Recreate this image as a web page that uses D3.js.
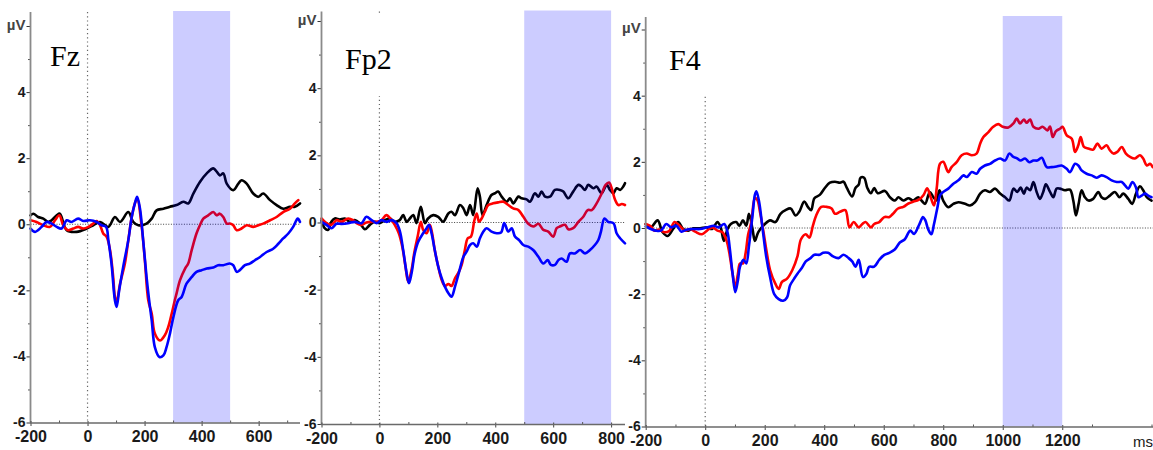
<!DOCTYPE html>
<html><head><meta charset="utf-8">
<script src="https://cdn.jsdelivr.net/npm/d3@7"></script>
<style>body{margin:0;background:#fff;} svg{display:block;}</style>
</head><body>
<svg id="c" width="1153" height="450"></svg>
<script>
// ---------- DATA (time in ms, amplitude in µV) ----------
const fzBlack = [[-200,0.27],[-190,0.32],[-173,0.22],[-155,0.17],[-138,0.07],[-126,0.12],[-108,0.27],[-97,0.32],[-73,-0.18],[-38,-0.23],[-3,-0.13],[20,-0.03],[44,0.07],[73,-0.08],[96,0.22],[114,0.07],[143,0.37],[160,0.07],[178,-0.03],[207,0.02],[225,0.17],[242,0.42],[266,0.47],[289,0.53],[312,0.58],[336,0.68],[353,0.63],[371,0.93],[394,1.28],[418,1.54],[441,1.69],[453,1.59],[464,1.48],[476,1.54],[488,1.23],[511,1.03],[529,1.23],[540,1.33],[558,1.23],[581,0.93],[599,0.83],[616,0.93],[640,0.73],[663,0.58],[686,0.47],[710,0.53],[727,0.53],[745,0.63]];
const fzRed = [[-200,0.12],[-179,0.07],[-155,-0.03],[-132,-0.08],[-114,0.12],[-99,0.27],[-85,-0.03],[-68,-0.18],[-50,-0.13],[-33,-0.08],[-15,-0.13],[3,-0.08],[20,0.02],[32,0.1],[44,-0.03],[55,-0.28],[67,-0.38],[79,-0.79],[90,-1.6],[96,-2.2],[102,-2.35],[114,-1.8],[131,-1.19],[143,-0.48],[155,0.22],[166,0.63],[174,0.78],[190,-0.08],[201,-1.09],[213,-2.3],[225,-2.7],[236,-3.31],[254,-3.52],[271,-3.36],[283,-3.11],[295,-2.71],[306,-2.3],[312,-2.1],[324,-1.7],[342,-1.34],[353,-1.19],[365,-0.79],[382,-0.28],[394,-0.03],[406,0.17],[423,0.27],[441,0.37],[453,0.27],[464,0.32],[476,0.22],[488,0.02],[499,0.02],[511,-0.03],[523,-0.18],[540,-0.13],[558,-0.03],[581,-0.08],[599,-0.03],[616,0.02],[640,0.12],[663,0.22],[686,0.37],[710,0.47],[727,0.63],[739,0.73]];
const fzBlue = [[-200,-0.13],[-184,-0.23],[-161,-0.08],[-144,0.07],[-126,0.02],[-108,-0.08],[-91,-0.13],[-73,0.12],[-56,0.07],[-33,0.17],[-15,0.1],[8,0.12],[32,0.07],[49,-0.03],[65,-0.08],[73,-0.48],[84,-1.19],[96,-2.3],[102,-2.5],[111,-2.0],[125,-1.29],[143,-0.48],[155,0.22],[166,0.63],[174,0.83],[184,0.47],[195,-0.48],[207,-1.6],[216,-2.3],[225,-2.91],[236,-3.72],[252,-4.02],[266,-3.97],[277,-3.72],[289,-3.31],[301,-2.81],[318,-2.3],[330,-2.2],[347,-1.8],[365,-1.6],[382,-1.44],[400,-1.39],[418,-1.34],[441,-1.31],[458,-1.24],[476,-1.24],[499,-1.19],[511,-1.24],[523,-1.44],[534,-1.39],[552,-1.24],[569,-1.19],[587,-1.09],[605,-0.99],[628,-0.84],[651,-0.74],[669,-0.59],[686,-0.43],[704,-0.28],[721,-0.08],[737,0.17],[745,0.07]];

const fp2Black = [[-200,0.07],[-189,-0.17],[-177,-0.22],[-166,0.02],[-154,0.12],[-137,0.09],[-120,0.12],[-102,0.02],[-85,0.07],[-68,-0.02],[-50,-0.2],[-33,-0.07],[-16,0.02],[1,-0.02],[19,0.07],[36,0.12],[53,0.02],[70,0.07],[82,0.22],[94,0.02],[105,0.12],[117,0.22],[128,-0.02],[143,0.47],[157,-0.02],[168,0.12],[186,0.22],[203,0.17],[220,0.02],[238,0.27],[249,0.32],[261,0.22],[278,0.52],[290,0.42],[301,0.22],[313,0.52],[324,0.22],[339,1.02],[347,0.77],[356,0.22],[370,0.52],[387,0.82],[399,0.87],[410,0.92],[422,0.77],[439,0.62],[451,0.72],[462,0.57],[480,0.77],[491,0.72],[508,0.69],[520,0.62],[537,0.87],[549,0.77],[560,0.92],[572,0.77],[589,0.77],[606,0.97],[623,0.97],[635,0.92],[652,0.72],[669,0.92],[687,1.12],[698,1.07],[710,0.97],[721,1.12],[739,1.02],[750,1.07],[767,0.87],[785,1.12],[796,0.97],[808,0.87],[819,1.02],[831,0.97],[842,1.07],[848,1.17]];
const fp2Red = [[-200,0.12],[-183,-0.02],[-166,-0.07],[-148,0.07],[-131,0.02],[-108,0.12],[-91,0.07],[-79,-0.02],[-62,-0.07],[-45,0],[-27,0.02],[-10,0.02],[7,0.07],[24,0.22],[42,0.07],[53,-0.07],[67,-0.32],[79,-0.72],[90,-1.31],[99,-1.76],[111,-1.41],[120,-0.92],[132,-0.42],[143,0.02],[151,-0.22],[163,-0.32],[174,-0.07],[182,-0.32],[191,-0.82],[203,-1.31],[215,-1.71],[226,-1.89],[238,-1.83],[249,-1.89],[261,-1.66],[272,-1.51],[284,-1.26],[295,-0.82],[305,-0.47],[316,-0.42],[328,0.07],[336,0.27],[344,0.02],[353,0.12],[364,0.32],[376,0.52],[393,0.57],[410,0.6],[428,0.62],[445,0.52],[462,0.42],[480,0.37],[497,0.17],[514,-0.04],[531,-0.12],[549,-0.04],[566,-0.22],[583,-0.27],[600,-0.42],[612,-0.17],[623,-0.12],[641,-0.07],[652,-0.2],[669,-0.17],[687,0.02],[704,0.17],[719,0.37],[733,0.37],[750,0.57],[768,0.87],[781,1.12],[793,1.19],[802,1.02],[814,0.67],[825,0.52],[837,0.55],[848,0.52]];
const fp2Blue = [[-200,0.02],[-183,-0.07],[-166,-0.17],[-148,-0.04],[-131,-0.04],[-108,-0.02],[-85,0.02],[-62,-0.02],[-45,0.17],[-27,0.07],[-10,-0.02],[7,0.07],[24,0.02],[42,0.07],[59,-0.02],[71,-0.27],[82,-0.82],[94,-1.51],[102,-1.81],[111,-1.51],[122,-0.92],[134,-0.57],[151,-0.32],[163,-0.17],[171,-0.07],[180,-0.32],[191,-0.82],[203,-1.31],[215,-1.66],[226,-1.91],[240,-2.13],[249,-2.21],[261,-1.91],[274,-1.51],[290,-1.02],[301,-0.87],[313,-0.67],[324,-0.62],[336,-0.72],[347,-0.47],[359,-0.27],[370,-0.17],[387,-0.27],[405,-0.32],[420,-0.3],[431,-0.02],[445,-0.27],[457,-0.17],[468,-0.42],[482,-0.52],[497,-0.67],[514,-0.72],[531,-0.82],[549,-1.02],[566,-1.22],[581,-1.12],[592,-1.26],[606,-1.26],[618,-1.12],[629,-1.07],[646,-1.17],[658,-0.92],[675,-0.92],[693,-0.82],[710,-0.92],[727,-0.82],[744,-0.67],[756,-0.52],[765,-0.27],[777,0.12],[790,0.02],[808,-0.02],[819,-0.32],[831,-0.47],[848,-0.62]];

const f4Black = [[-200,0.12],[-183,0.02],[-160,0.23],[-143,-0.13],[-126,-0.24],[-108,-0.03],[-91,0.18],[-74,-0.03],[-57,-0.08],[-40,-0.01],[-17,-0.01],[6,0.02],[23,-0.03],[41,0.18],[52,0.02],[63,-0.39],[75,-0.03],[86,0.12],[104,0.18],[115,0.07],[127,0.23],[138,0.07],[147,0.43],[159,-0.03],[167,-0.39],[178,-0.13],[195,0.07],[218,0.23],[236,0.18],[253,0.43],[270,0.54],[287,0.59],[304,0.38],[316,0.49],[333,0.8],[345,0.64],[356,0.54],[367,0.9],[385,1.0],[402,1.21],[419,1.37],[436,1.4],[453,1.37],[465,1.4],[476,1.21],[494,0.95],[505,1.21],[516,1.31],[522,1.52],[534,1.52],[545,1.21],[557,1.05],[568,1.21],[580,1.05],[604,1.12],[621,0.93],[638,0.83],[649,0.93],[666,0.83],[683,0.9],[699,0.83],[716,0.93],[727,0.83],[739,0.73],[755,1.09],[767,0.93],[778,0.83],[787,1.14],[800,0.83],[817,0.63],[834,0.73],[851,0.78],[873,0.73],[890,0.68],[907,0.78],[924,1.04],[940,1.14],[957,1.09],[974,1.19],[991,1.04],[1008,0.93],[1022,0.83],[1036,1.19],[1049,1.09],[1060,1.22],[1071,1.04],[1080,1.22],[1092,1.14],[1103,1.39],[1114,1.09],[1125,0.88],[1136,1.09],[1145,1.32],[1159,1.09],[1170,0.93],[1181,1.19],[1192,1.19],[1209,1.14],[1226,1.16],[1237,0.83],[1246,0.38],[1255,0.73],[1265,1.14],[1276,0.93],[1288,0.83],[1304,0.88],[1321,1.09],[1332,0.93],[1344,0.88],[1360,0.98],[1377,1.09],[1392,0.93],[1405,1.04],[1422,0.88],[1435,0.73],[1448,1.04],[1461,1.26],[1472,1.14],[1484,0.93],[1500,0.83]];
const f4Red = [[-200,0.12],[-183,0.05],[-172,-0.08],[-155,-0.05],[-137,-0.13],[-120,-0.08],[-103,0.18],[-86,0.07],[-68,-0.08],[-51,-0.03],[-34,-0.11],[-11,-0.19],[6,-0.08],[23,0.02],[41,-0.08],[58,-0.13],[72,-0.39],[81,-0.75],[92,-1.38],[101,-1.79],[110,-1.38],[117,-1.07],[127,-1.07],[136,-0.75],[144,-0.21],[155,0.18],[167,0.9],[175,0.85],[184,0.49],[196,-0.13],[207,-0.75],[218,-1.27],[236,-1.69],[247,-1.84],[258,-1.63],[275,-1.53],[293,-1.27],[310,-0.86],[322,-0.34],[338,-0.19],[350,-0.29],[362,0.07],[373,0.38],[390,0.64],[407,0.64],[425,0.59],[436,0.43],[453,0.49],[471,0.54],[485,0.02],[499,0.18],[516,0.02],[528,0.12],[539,0.18],[557,0.02],[568,0.12],[585,0.18],[602,0.33],[619,0.33],[631,0.43],[648,0.59],[666,0.64],[683,0.74],[700,0.8],[717,0.85],[734,1.0],[746,1.2],[757,0.95],[769,0.68],[778,1.2],[789,1.94],[800,2.0],[817,1.69],[828,1.84],[845,1.99],[862,2.2],[879,2.25],[896,2.2],[912,2.25],[924,2.55],[935,2.75],[952,2.9],[968,3.06],[985,3.14],[1000,3.06],[1019,3.04],[1036,3.16],[1047,3.31],[1058,3.16],[1071,3.28],[1080,3.18],[1092,3.28],[1103,3.06],[1120,3.0],[1134,3.06],[1150,2.95],[1159,3.07],[1168,2.75],[1179,2.93],[1192,3.0],[1201,3.06],[1215,2.8],[1232,2.7],[1243,2.3],[1254,2.5],[1262,2.75],[1273,2.45],[1288,2.4],[1304,2.37],[1318,2.55],[1332,2.4],[1349,2.5],[1360,2.35],[1372,2.25],[1385,2.3],[1400,2.45],[1414,2.25],[1428,2.15],[1444,2.1],[1461,2.2],[1472,2.1],[1484,1.89],[1495,1.94],[1504,1.84]];
const f4Blue = [[-200,0.05],[-183,-0.03],[-166,-0.08],[-149,-0.08],[-131,0.12],[-114,0.02],[-97,0.07],[-80,-0.11],[-63,-0.05],[-40,-0.03],[-17,-0.03],[6,0.02],[29,0.07],[46,0.02],[64,0.12],[75,-0.13],[83,-0.65],[92,-1.38],[101,-1.94],[110,-1.58],[117,-1.17],[129,-0.96],[138,-1.07],[147,-0.55],[159,0.38],[167,1.0],[172,1.11],[181,0.8],[193,-0.03],[205,-0.86],[218,-1.48],[232,-2.0],[247,-2.15],[262,-2.2],[275,-2.1],[285,-1.74],[299,-1.53],[310,-1.38],[324,-1.22],[338,-1.01],[354,-0.91],[367,-0.81],[385,-0.81],[396,-0.75],[413,-0.75],[430,-0.86],[448,-0.91],[465,-0.81],[482,-0.91],[494,-1.01],[505,-1.17],[516,-0.96],[530,-1.48],[542,-1.38],[551,-1.17],[568,-1.17],[585,-0.96],[602,-0.81],[619,-0.75],[637,-0.65],[654,-0.44],[671,-0.34],[689,-0.08],[702,-0.18],[720,0.12],[732,0.33],[740,0.23],[749,-0.03],[760,-0.19],[769,0.12],[780,0.6],[790,1.0],[800,1.09],[817,1.19],[834,1.34],[851,1.44],[868,1.59],[879,1.54],[896,1.69],[912,1.64],[924,1.79],[940,1.89],[957,1.94],[974,2.04],[991,2.1],[1008,2.04],[1022,2.25],[1036,2.15],[1049,2.1],[1060,2.04],[1075,2.1],[1089,1.99],[1103,2.04],[1116,2.04],[1131,2.12],[1148,1.84],[1164,1.84],[1181,1.86],[1198,1.89],[1215,1.79],[1226,1.69],[1243,1.94],[1254,1.89],[1265,1.74],[1282,1.64],[1299,1.59],[1315,1.52],[1332,1.59],[1349,1.54],[1366,1.44],[1383,1.39],[1400,1.39],[1411,1.29],[1422,1.19],[1436,1.39],[1448,1.22],[1456,0.93],[1467,0.98],[1478,1.04],[1489,0.98],[1500,0.93]];

const electrodes = ["Fz", "Fp2", "F4"];
const seriesColors = ["#000000", "#ff0000", "#0000ff"];
const fzWindow = [300, 500];
const fp2Window = [500, 800];
const f4Window = [1000, 1200];
const yMajorTicks = [-6, -4, -2, 0, 2, 4, 6];
const yMinorTicks = [-5, -3, -1, 1, 3, 5];
const yUnitLabel = "µV";
const xUnitLabel = "ms";
const fzXTicks = [-200, 0, 200, 400, 600];
const fp2XTicks = [-200, 0, 200, 400, 600, 800];
const f4XTicks = [-200, 0, 200, 400, 600, 800, 1000, 1200];

// ---------- LAYOUT ----------
const panels = [
  {name: electrodes[0], series: [fzBlack, fzRed, fzBlue], win: fzWindow, xTicks: fzXTicks,
   xDomain: [-200, 745], xRange: [30.5, 300], yRange: [422.5, 26], top: 12,
   label: {x: 50, y: 66}, box: null, unit: false},
  {name: electrodes[1], series: [fp2Black, fp2Red, fp2Blue], win: fp2Window, xTicks: fp2XTicks,
   xDomain: [-200, 848], xRange: [321.5, 625], yRange: [424, 21], top: 11.5,
   label: {x: 345, y: 68.5}, box: [336, 14, 66, 82], unit: false},
  {name: electrodes[2], series: [f4Black, f4Red, f4Blue], win: f4Window, xTicks: f4XTicks,
   xDomain: [-200, 1505], xRange: [645.7, 1153], yRange: [426.5, 29.5], top: 17,
   label: {x: 669, y: 70}, box: [660, 15, 54, 81], unit: true}
];

const svg = d3.select("#c");
const labelFont = "'Liberation Sans Narrow','Arial Narrow','Liberation Sans',Arial,sans-serif";

panels.forEach(p => {
  const g = svg.append("g");
  const x = d3.scaleLinear().domain(p.xDomain).range(p.xRange);
  const y = d3.scaleLinear().domain([-6, 6]).range(p.yRange);
  const x0 = p.xRange[0], x1 = p.xRange[1];
  const yBottom = y(-6);

  // zero reference lines
  g.append("line").attr("x1", x0).attr("x2", x1).attr("y1", y(0)).attr("y2", y(0))
    .attr("stroke", "#444").attr("stroke-width", 1).attr("stroke-dasharray", "1,1.6");
  g.append("line").attr("x1", x(0)).attr("x2", x(0)).attr("y1", p.top).attr("y2", yBottom)
    .attr("stroke", "#666").attr("stroke-width", 1.2).attr("stroke-dasharray", "1.2,3");

  // curves
  const line = d3.line().x(d => x(d[0])).y(d => y(d[1])).curve(d3.curveCatmullRom.alpha(0.5));
  p.series.forEach((s, i) => {
    g.append("path").datum(s).attr("d", line).attr("fill", "none")
      .attr("stroke", seriesColors[i]).attr("stroke-width", 2.6)
      .attr("stroke-linejoin", "round").attr("stroke-linecap", "round");
  });

  // analysis window (translucent overlay)
  g.append("rect").attr("x", x(p.win[0])).attr("y", p.top - 1)
    .attr("width", x(p.win[1]) - x(p.win[0])).attr("height", yBottom - p.top + 1)
    .attr("fill", "rgba(0,0,255,0.2)");

  // label box
  if (p.box) g.append("rect").attr("x", p.box[0]).attr("y", p.box[1])
    .attr("width", p.box[2]).attr("height", p.box[3]).attr("fill", "#fff");
  g.append("text").attr("x", p.label.x).attr("y", p.label.y).text(p.name)
    .attr("font-family", "'Liberation Serif','Times New Roman',serif").attr("font-size", 30).attr("fill", "#000");

  // y axis
  const yMajor = d3.axisLeft(y).tickValues(yMajorTicks).tickSizeInner(4).tickSizeOuter(0).tickPadding(1)
    .tickFormat(d => d === 6 ? yUnitLabel : String(d));
  const ya = g.append("g").attr("transform", `translate(${x0},0)`).call(yMajor);
  ya.select(".domain").remove();
  ya.selectAll(".tick line").attr("stroke", "#333");
  ya.selectAll(".tick text").attr("font-family", labelFont).attr("font-weight", "bold")
    .attr("font-size", 14).attr("fill", "#1a1a1a");
  ya.selectAll(".tick").filter(d => d === 6).select("text").attr("font-size", 15).attr("fill", "#444").attr("dy", "0.2em");
  const yMinor = d3.axisLeft(y).tickValues(yMinorTicks).tickSizeInner(2.5).tickSizeOuter(0).tickFormat("");
  const ym = g.append("g").attr("transform", `translate(${x0},0)`).call(yMinor);
  ym.select(".domain").remove();
  ym.selectAll(".tick line").attr("stroke", "#555");
  g.append("line").attr("x1", x0).attr("x2", x0).attr("y1", p.top).attr("y2", yBottom + 1)
    .attr("stroke", "#8a8a8a").attr("stroke-width", 1.8);

  // x axis
  const xb = yBottom + 0.5;
  const xMajor = d3.axisBottom(x).tickValues(p.xTicks).tickSizeInner(3).tickSizeOuter(0).tickPadding(5)
    .tickFormat(d => String(d));
  const xa = g.append("g").attr("transform", `translate(0,${xb})`).call(xMajor);
  xa.select(".domain").remove();
  xa.selectAll(".tick line").attr("stroke", "#444").attr("y1", -2);
  xa.selectAll(".tick text").attr("font-family", labelFont).attr("font-weight", "bold")
    .attr("font-size", 16).attr("fill", "#1a1a1a");
  const minorX = d3.range(p.xDomain[0] + 100, p.xDomain[1], 200).filter(v => !p.xTicks.includes(v));
  const xm = g.append("g").attr("transform", `translate(0,${xb})`)
    .call(d3.axisBottom(x).tickValues(minorX).tickSizeInner(-2.5).tickSizeOuter(0).tickFormat(""));
  xm.select(".domain").remove();
  xm.selectAll(".tick line").attr("stroke", "#555");
  g.append("line").attr("x1", x0).attr("x2", x1).attr("y1", xb).attr("y2", xb)
    .attr("stroke", "#6a6a6a").attr("stroke-width", 1.6);

  if (p.unit) {
    g.append("text").attr("x", 1133).attr("y", 447).text(xUnitLabel)
      .attr("font-family", labelFont).attr("font-size", 15).attr("fill", "#1a1a1a");
  }
});
</script>
</body></html>
